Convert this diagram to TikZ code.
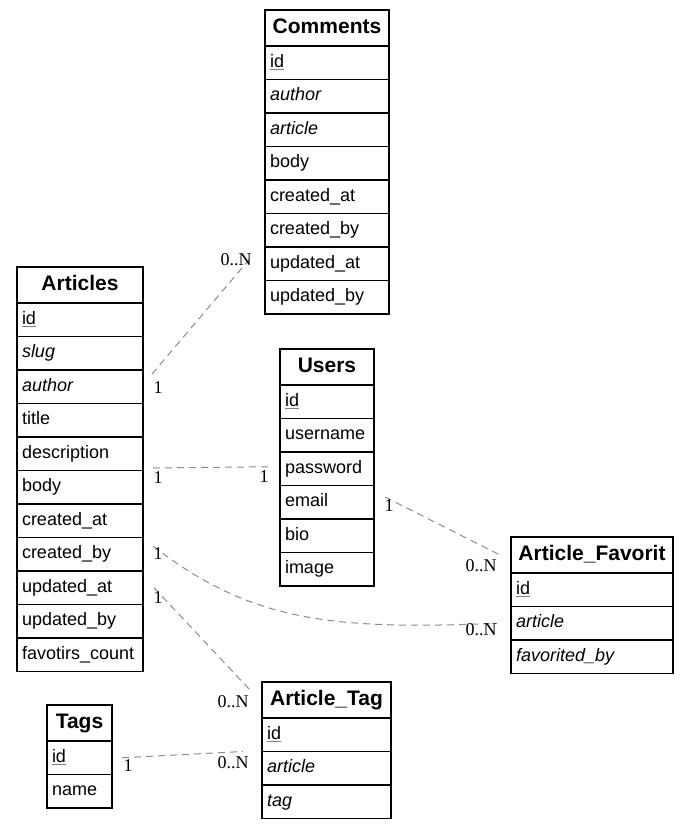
\documentclass[tikz,border=0pt]{standalone}
\usepackage{fontspec}
\setmainfont{Liberation Sans}
\newfontfamily\cardfont{Liberation Serif}
\usetikzlibrary{positioning}

\newcommand{\pk}[1]{{\color{gray}\underline{\color{black}#1}}}
\newcommand{\fk}[1]{\textit{#1}}

% one table: name, north west corner, width, title, rows
\newcommand{\erdtable}[5]{%
  \pgfmathsetlengthmacro\tablewd{#3-10}
  \node[tablehead, text width=\tablewd] (#1-0) at (#2) {#4};
  \foreach \rtext [count=\ri, remember=\ri as \rlast (initially 0)] in {#5}
    \node[tablerow, text width=\tablewd, below=0pt of #1-\rlast] (#1-\ri) {\rtext};
}

\tikzset{
  tablehead/.style={draw, line width=1.2pt, anchor=north west, minimum height=36,
    inner xsep=5pt, inner ysep=0pt, outer sep=0pt, text height=15pt, text depth=4pt,
    align=center, font=\fontsize{21}{24}\selectfont\bfseries},
  tablerow/.style={draw, line width=1.2pt, minimum height=33.5, inner xsep=5pt,
    inner ysep=0pt, outer sep=0pt, text height=13pt, text depth=4pt,
    align=left, font=\fontsize{18}{21}\selectfont},
  relation/.style={draw=black!45, dash pattern=on 7pt off 5pt, line width=1pt},
  card/.style={font=\cardfont\fontsize{18}{20}\selectfont, inner sep=0pt},
}

\begin{document}
\begin{tikzpicture}[x=1pt,y=-1pt]
  \useasboundingbox (0,0) rectangle (689,829);

  \erdtable{comments}{265,10}{124}{Comments}
    {\pk{id}, \fk{author}, \fk{article}, body, created\_at, created\_by, updated\_at, updated\_by}
  \erdtable{articles}{17,267}{126}{Articles}
    {\pk{id}, \fk{slug}, \fk{author}, title, description, body, created\_at, created\_by,
     updated\_at, updated\_by, favotirs\_count}
  \erdtable{users}{280,349}{94}{Users}
    {\pk{id}, username, password, email, bio, image}
  \erdtable{favorit}{511,537}{162}{Article\_Favorit}
    {\pk{id}, \fk{article}, \fk{favorited\_by}}
  \erdtable{articletag}{262,682}{129}{Article\_Tag}
    {\pk{id}, \fk{article}, \fk{tag}}
  \erdtable{tags}{47,705}{65}{Tags}
    {\pk{id}, name}

  % connector ends
  \coordinate (c1a) at ([shift={(9,4)}]articles-3.north east);
  \coordinate (c1b) at ([shift={(-12,8)}]comments-7.north west);
  \coordinate (c2a) at ([shift={(10,-2.5)}]articles-5.south east);
  \coordinate (c2b) at ([shift={(-10,-2)}]users-3.west);
  \coordinate (c3a) at ([shift={(11,11.5)}]users-4.north east);
  \coordinate (c3b) at ([shift={(-11,0)}]favorit-0.west);
  \coordinate (c4a) at ([shift={(10,8.5)}]articles-8.north east);
  \coordinate (c4b) at ([shift={(-14,0)}]favorit-2.west);
  \coordinate (c5a) at ([shift={(11,0)}]articles-9.east);
  \coordinate (c5b) at ([shift={(-12,8)}]articletag-0.north west);
  \coordinate (c6a) at ([shift={(10,0)}]tags-1.east);
  \coordinate (c6b) at ([shift={(-19,0)}]articletag-2.north west);

  \draw[relation] (c1a) -- (c1b);
  \draw[relation] (c2a) -- (c2b);
  \draw[relation] (c3a) -- (c3b);
  \draw[relation] (c4a) .. controls +(97,75) and +(-167,7) .. (c4b);
  \draw[relation] (c5a) -- (c5b);
  \draw[relation] (c6a) -- (c6b);

  % cardinalities
  \node[card] (k1a) at ([shift={(6,14)}]c1a) {1};
  \node[card] (k1b) at ([shift={(-17,5)}]c1b) {0..N};
  \node[card] (k2a) at ([shift={(5,10)}]c2a) {1};
  \node[card] (k2b) at ([shift={(-6,10)}]c2b) {1};
  \node[card] (k3a) at ([shift={(4,9)}]c3a) {1};
  \node[card] (k3b) at ([shift={(-19,11)}]c3b) {0..N};
  \node[card] (k4a) at ([shift={(5,8)}]c4a) {1};
  \node[card] (k4b) at ([shift={(-16,6)}]c4b) {0..N};
  \node[card] (k5a) at ([shift={(4,10)}]c5a) {1};
  \node[card] (k5b) at ([shift={(-17,12)}]c5b) {0..N};
  \node[card] (k6a) at ([shift={(6,8)}]c6a) {1};
  \node[card] (k6b) at ([shift={(-10,11)}]c6b) {0..N};
\end{tikzpicture}
\end{document}
